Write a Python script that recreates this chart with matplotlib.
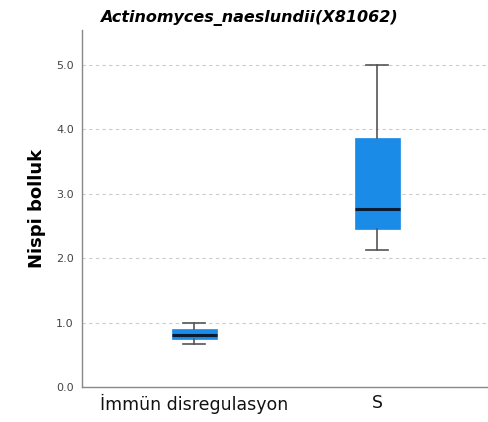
import matplotlib.pyplot as plt

# box summary per group
groups = ["İmmün disregulasyon", "S"]
whis_lo = [0.67, 2.12]
q1 = [0.74, 2.45]
median = [0.81, 2.76]
q3 = [0.90, 3.87]
whis_hi = [1.00, 5.00]

yticks = [0.0, 1.0, 2.0, 3.0, 4.0, 5.0]

fig = plt.figure(figsize=(4.89, 4.22), dpi=100)
ax = fig.add_axes([0.168, 0.083, 0.832, 0.846])

stats = []
for i, name in enumerate(groups):
    stats.append(dict(label=name, whislo=whis_lo[i], q1=q1[i], med=median[i],
                      q3=q3[i], whishi=whis_hi[i], fliers=[]))

ax.bxp(stats, positions=[1, 2], widths=0.246, patch_artist=True,
       showfliers=False, capwidths=0.12,
       boxprops=dict(facecolor="#1a8be6", edgecolor="#1a8be6", linewidth=0.5),
       medianprops=dict(color="#0a1a33", linewidth=2.2),
       whiskerprops=dict(color="#555555", linewidth=1.2),
       capprops=dict(color="#555555", linewidth=1.2), zorder=3)

ax.set_xlim(0.388, 2.61)
ax.set_ylim(0, 5.54)
ax.set_yticks(yticks)
ax.set_yticklabels([f"{v:.1f}" for v in yticks], fontsize=8, color="#444444")
ax.set_xticks([1, 2])
ax.set_xticklabels(groups, fontsize=12.5, color="#111111")
ax.tick_params(axis="both", length=0, pad=6)
ax.tick_params(axis="x", pad=5)

ax.yaxis.grid(True, linestyle=(0, (3, 3)), color="#cccccc", linewidth=0.8)
ax.set_axisbelow(True)

for side in ["top", "right"]:
    ax.spines[side].set_visible(False)
for side in ["left", "bottom"]:
    ax.spines[side].set_color("#888888")
    ax.spines[side].set_linewidth(1.0)

ax.set_ylabel("Nispi bolluk", fontsize=13, fontweight="bold", labelpad=7)
fig.text(0.51, 0.958, "Actinomyces_naeslundii(X81062)", ha="center", va="center",
         fontsize=11.5, fontweight="bold", fontstyle="italic")

fig.savefig("out.png", dpi=100)
